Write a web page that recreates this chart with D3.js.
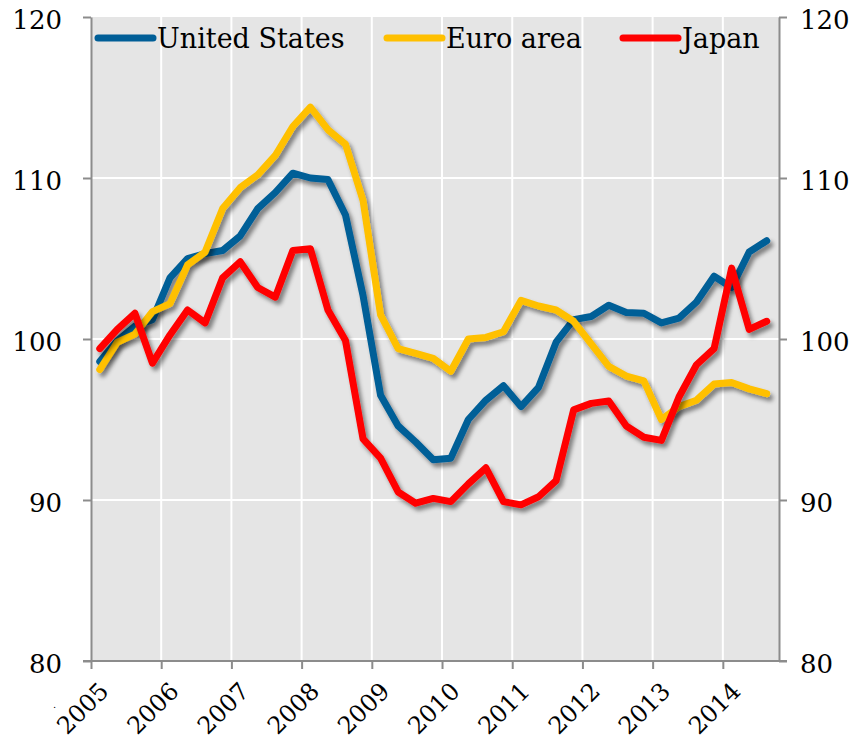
<!DOCTYPE html>
<html>
<head>
<meta charset="utf-8">
<script src="https://cdn.jsdelivr.net/npm/d3@7"></script>
<style>
  body { margin: 0; background: #fff; }
  svg { display: block; }
  .lbl { font-family: Georgia, "DejaVu Serif", serif; fill: #000; }
</style>
</head>
<body>
<svg id="chart" width="852" height="746"></svg>
<script>
"use strict";
// quarterly index values, 2005Q1 .. 2014Q3
const years = [2005, 2006, 2007, 2008, 2009, 2010, 2011, 2012, 2013, 2014];
const yTicks = [80, 90, 100, 110, 120];
const seriesNames = ["United States", "Euro area", "Japan"];
const seriesColors = ["#005e97", "#ffc000", "#ff0000"];

const usValues = [98.6, 99.9, 100.8, 101.2, 103.8, 105.0, 105.3, 105.5, 106.4, 108.1,
  109.1, 110.3, 110.0, 109.9, 107.7, 102.7, 96.5, 94.6, 93.6, 92.5,
  92.6, 95.0, 96.2, 97.1, 95.8, 97.0, 99.8, 101.2, 101.4, 102.1,
  101.65, 101.6, 101.0, 101.3, 102.3, 103.9, 103.2, 105.4, 106.1];
const euroValues = [98.1, 99.8, 100.3, 101.7, 102.2, 104.6, 105.4, 108.1, 109.4, 110.2,
  111.4, 113.2, 114.4, 113.0, 112.1, 108.6, 101.5, 99.4, 99.1, 98.8,
  98.0, 100.0, 100.1, 100.45, 102.4, 102.05, 101.8, 101.1, 99.7, 98.3,
  97.7, 97.4, 95.0, 95.8, 96.2, 97.2, 97.3, 96.9, 96.6];
const japanValues = [99.4, 100.6, 101.6, 98.5, 100.25, 101.8, 101.0, 103.8, 104.8, 103.2,
  102.6, 105.5, 105.6, 101.8, 99.9, 93.8, 92.6, 90.5, 89.8, 90.1,
  89.9, 91.0, 92.0, 89.9, 89.7, 90.2, 91.2, 95.6, 96.0, 96.15,
  94.6, 93.9, 93.7, 96.4, 98.4, 99.4, 104.4, 100.6, 101.1];

const allSeries = [usValues, euroValues, japanValues];

const svg = d3.select("#chart");
const plotLeft = 91, plotRight = 779, plotTop = 17, plotBottom = 661;

const x = d3.scaleLinear().domain([2005, 2014.8]).range([plotLeft, plotRight]);
const y = d3.scaleLinear().domain([80, 120]).range([plotBottom, plotTop]);

// drop shadow for the lines
const defs = svg.append("defs");
defs.append("filter").attr("id", "shadow")
    .attr("x", "-5%").attr("y", "-5%").attr("width", "115%").attr("height", "115%")
  .append("feDropShadow")
    .attr("dx", 3).attr("dy", 4).attr("stdDeviation", 2)
    .attr("flood-color", "#000").attr("flood-opacity", 0.45);

// plot background
svg.append("rect")
    .attr("x", plotLeft).attr("y", plotTop)
    .attr("width", plotRight - plotLeft).attr("height", plotBottom - plotTop)
    .attr("fill", "#e5e5e5");

// gridlines
svg.append("g").selectAll("line").data(years.slice(1)).join("line")
    .attr("x1", d => x(d)).attr("x2", d => x(d))
    .attr("y1", plotTop).attr("y2", plotBottom)
    .attr("stroke", "#fff").attr("stroke-width", 2);
svg.append("g").selectAll("line").data(yTicks.slice(1, -1)).join("line")
    .attr("x1", plotLeft).attr("x2", plotRight)
    .attr("y1", d => y(d)).attr("y2", d => y(d))
    .attr("stroke", "#fff").attr("stroke-width", 2);

// lines
const line = d3.line()
    .x((d, i) => x(2005.125 + i * 0.25))
    .y(d => y(d));

svg.append("g").selectAll("path").data(allSeries).join("path")
    .attr("d", line)
    .attr("fill", "none")
    .attr("stroke", (d, i) => seriesColors[i])
    .attr("stroke-width", 7)
    .attr("stroke-linejoin", "round")
    .attr("stroke-linecap", "round")
    .attr("filter", "url(#shadow)");

// axes
function styleAxis(g) {
  g.select(".domain").attr("stroke", "#8c8c8c").attr("stroke-width", 2);
  g.selectAll(".tick line").attr("stroke", "#8c8c8c").attr("stroke-width", 2);
  g.selectAll("text").attr("class", "lbl").attr("font-size", 26).attr("fill", "#000");
}

const yAxisLeft = svg.append("g")
    .attr("transform", `translate(${plotLeft},0)`)
    .call(d3.axisLeft(y).tickValues(yTicks).tickSize(8).tickPadding(21).tickSizeOuter(0))
    .call(styleAxis);
yAxisLeft.selectAll("text").attr("dy", "0.45em");

const yAxisRight = svg.append("g")
    .attr("transform", `translate(${plotRight},0)`)
    .call(d3.axisRight(y).tickValues(yTicks).tickSize(8).tickPadding(13).tickSizeOuter(0))
    .call(styleAxis);
yAxisRight.selectAll("text").attr("dy", "0.45em");

const xAxis = svg.append("g")
    .attr("transform", `translate(0,${plotBottom})`)
    .call(d3.axisBottom(x).tickValues(years).tickFormat(d3.format("d")).tickSize(8).tickSizeOuter(0))
    .call(styleAxis);
xAxis.select(".domain").attr("d", `M${plotLeft - 8},0H${plotRight + 8}`);
xAxis.selectAll("text")
    .attr("font-size", 24)
    .attr("text-anchor", "end")
    .attr("dy", null)
    .attr("dominant-baseline", "central")
    .attr("x", 13).attr("y", 26)
    .attr("transform", "rotate(-45 13 26)");

// stray mark under the axis
svg.append("text").attr("class", "lbl")
    .attr("x", 53).attr("y", 708)
    .attr("font-size", 10).attr("fill", "#3b7dd8")
    .text(".");

// legend
const legendX = [98, 387, 623];
const legend = svg.append("g").selectAll("g").data(seriesNames).join("g")
    .attr("transform", (d, i) => `translate(${legendX[i]},38)`);
legend.append("line")
    .attr("x1", 0).attr("x2", 55)
    .attr("stroke", (d, i) => seriesColors[i])
    .attr("stroke-width", 7).attr("stroke-linecap", "round");
legend.append("text").attr("class", "lbl")
    .attr("x", 59).attr("y", 10)
    .attr("font-size", 27)
    .text(d => d);
</script>
</body>
</html>
